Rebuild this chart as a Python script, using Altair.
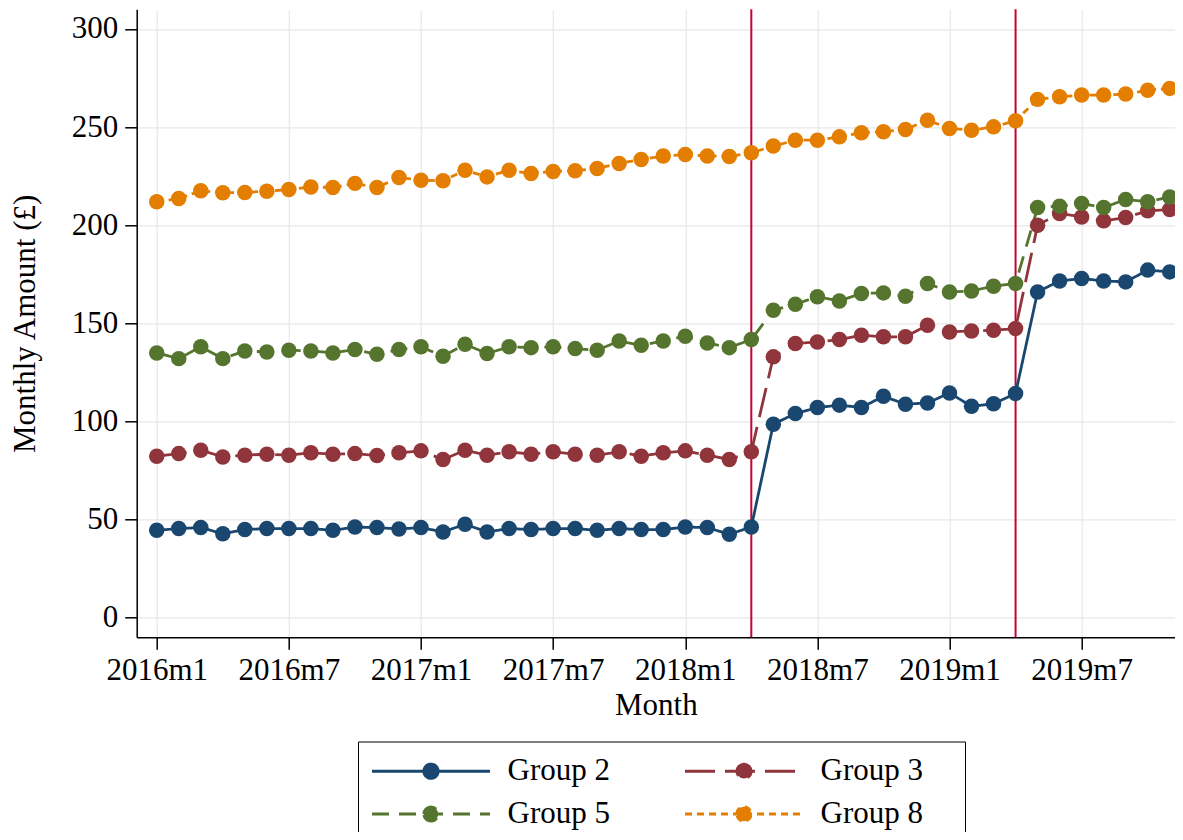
import altair as alt
import pandas as pd

# ---------------- data ----------------
months = [f"{2016 + i // 12}m{i % 12 + 1}" for i in range(47)]
group_names = ["Group 2", "Group 3", "Group 5", "Group 8"]

group2 = [44.5, 45.4, 45.9, 42.8, 44.9, 45.4, 45.4, 45.4, 44.5, 46.2, 45.9, 45.2, 45.9, 43.7,
          47.6, 43.7, 45.4, 44.9, 45.4, 45.4, 44.5, 45.4, 44.9, 44.9, 46.2, 45.9, 42.5, 46.2,
          98.6, 104.0, 107.1, 108.3, 107.1, 112.8, 108.8, 109.4, 114.5, 107.7, 109.0, 114.2,
          166.0, 171.6, 172.8, 171.6, 171.1, 177.1, 176.2]
group3 = [82.3, 83.6, 85.3, 81.9, 82.8, 83.3, 82.8, 84.0, 83.3, 83.6, 82.6, 84.0, 85.0, 80.6,
          85.3, 82.8, 84.5, 83.3, 84.5, 83.3, 82.8, 84.5, 82.3, 84.0, 85.0, 82.8, 80.6, 84.5,
          132.9, 139.7, 140.5, 141.7, 143.9, 143.1, 143.1, 149.0, 145.6, 146.1, 146.5, 147.3,
          200.0, 206.0, 204.2, 202.2, 203.9, 207.3, 208.0]
group5 = [134.9, 132.0, 138.0, 132.0, 135.9, 135.4, 136.3, 135.9, 134.9, 136.6, 134.2, 136.6, 138.0, 133.2,
          139.3, 134.6, 138.0, 137.6, 138.0, 137.1, 136.3, 141.0, 138.8, 141.0, 143.4, 140.0, 137.6, 141.7,
          156.7, 159.7, 163.5, 161.4, 165.2, 165.5, 163.8, 170.3, 166.0, 166.5, 168.9, 170.3,
          209.0, 209.7, 211.1, 209.0, 213.1, 211.9, 214.4]
group8 = [211.9, 213.6, 217.5, 216.5, 216.7, 217.3, 218.2, 219.5, 219.2, 221.3, 219.2, 224.3, 222.9, 222.6,
          228.0, 224.6, 228.0, 226.3, 227.4, 227.7, 228.9, 231.4, 233.5, 235.2, 236.0, 235.3, 235.0, 236.9,
          240.3, 243.3, 243.3, 245.0, 247.1, 247.6, 248.8, 253.5, 249.3, 248.4, 250.1, 253.2,
          264.1, 265.4, 266.3, 266.3, 266.8, 268.8, 269.7]
policy_months = ["2018m4", "2019m4"]

x_tick_months = ["2016m1", "2016m7", "2017m1", "2017m7", "2018m1", "2018m7", "2019m1", "2019m7"]
y_ticks = [0, 50, 100, 150, 200, 250, 300]

colors = ["#1a476f", "#90353b", "#55752f", "#e37e00"]
dashes = [[1, 0], [30, 10], [17, 10], [7, 5]]

series = [group2, group3, group5, group8]
assert all(len(s) == len(months) for s in series)

rows = []
for name, vals in zip(group_names, series):
    for m, v in zip(months, vals):
        rows.append({"t": months.index(m), "month": m, "group": name, "value": v})
df = pd.DataFrame(rows)
policy_df = pd.DataFrame({"t": [months.index(m) for m in policy_months], "month": policy_months})

# ---------------- styling ----------------
FONT = "Liberation Serif"
FS = 31

x_enc = alt.X(
    "t:Q",
    scale=alt.Scale(domain=[-0.91, 46.24], nice=False, zero=False),
    axis=alt.Axis(
        values=[months.index(m) for m in x_tick_months],
        labelExpr="'' + (2016 + floor(datum.value / 12)) + 'm' + (datum.value % 12 + 1)",
        title="Month",
        labelFont=FONT, labelFontSize=FS, labelColor="black", labelPadding=6,
        labelFlush=False, labelOverlap=False, labelAngle=0,
        titleFont=FONT, titleFontSize=FS, titleFontWeight="normal", titleColor="black",
        titlePadding=5,
        tickSize=12, tickColor="black", tickWidth=1.5,
        domainColor="black", domainWidth=1.5,
        grid=True, gridColor="#e8e8e8", gridWidth=1.2,
    ),
)
y_enc = alt.Y(
    "value:Q",
    scale=alt.Scale(domain=[-10, 310], nice=False, zero=False),
    axis=alt.Axis(
        values=y_ticks,
        title="Monthly Amount (£)",
        labelFont=FONT, labelFontSize=FS, labelColor="black", labelPadding=7,
        labelFlush=False, labelOverlap=False,
        titleFont=FONT, titleFontSize=FS, titleFontWeight="normal", titleColor="black",
        titlePadding=30,
        tickSize=12, tickColor="black", tickWidth=1.5,
        domainColor="black", domainWidth=1.5,
        grid=True, gridColor="#e8e8e8", gridWidth=1.2,
    ),
)

# legend symbol: a 118px line with a filled dot in the middle
dot_path = "M-5.9,0H5.9M-0.72,0A0.72,0.72,0,1,1,0.72,0A0.72,0.72,0,1,1,-0.72,0Z"

legend = alt.Legend(
    title="\u00a0",
    titleFontSize=1,
    titleOrient="right",
    titlePadding=28,
    orient="none",
    legendX=221.3,
    legendY=732.2,
    direction="horizontal",
    columns=2,
    columnPadding=69,
    rowPadding=11,
    padding=14,
    strokeColor="black",
    symbolType=dot_path,
    symbolSize=400,
    symbolStrokeWidth=2.8,
    symbolOffset=43.5,
    labelOffset=61,
    labelFont=FONT,
    labelFontSize=FS,
    labelColor="black",
)

rules = alt.Chart(policy_df).mark_rule(color="#c10534", strokeWidth=2).encode(x=x_enc)

lines = alt.Chart(df).mark_line(strokeWidth=2.8).encode(
    x=x_enc,
    y=y_enc,
    color=alt.Color("group:N", scale=alt.Scale(domain=group_names, range=colors), legend=legend),
    strokeDash=alt.StrokeDash("group:N", scale=alt.Scale(domain=group_names, range=dashes), legend=legend),
)

points = alt.Chart(df).mark_point(filled=True, size=240, opacity=1).encode(
    x=x_enc,
    y=y_enc,
    fill=alt.Fill("group:N", scale=alt.Scale(domain=group_names, range=colors), legend=legend),
    strokeWidth=alt.value(0),
)

chart = (
    alt.layer(rules, lines, points)
    .properties(
        width=1038.3,
        height=628,
        autosize=alt.AutoSizeParams(type="none"),
        padding={"left": 128.7, "top": 1.3, "right": 0, "bottom": 194.7},
        background="white",
    )
    .configure_view(strokeWidth=0)
)

chart.save("out.html", embed_options={"renderer": "svg", "actions": False})
